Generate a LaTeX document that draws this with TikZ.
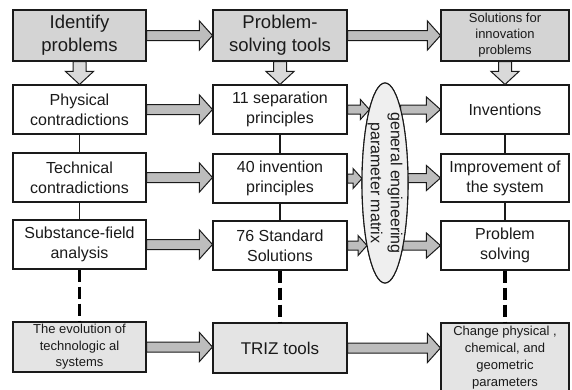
\documentclass[tikz,border=0pt]{standalone}
\usepackage{fontspec}
\setmainfont{Liberation Sans}
\usetikzlibrary{calc,shapes.geometric}
\definecolor{topfill}{HTML}{D4D4D4}
\definecolor{lowfill}{HTML}{E4E4E4}
\definecolor{harrfill}{HTML}{BDBDBD}
\definecolor{varrfill}{HTML}{D9D9D9}
\definecolor{ellfill}{HTML}{EFEFEF}
\definecolor{linecol}{HTML}{1A1A1A}
\newcommand{\fsz}[2]{\fontsize{#1}{#2}\selectfont}
% big horizontal block arrow between two anchors
\newcommand{\blockarrowH}[2]{%
  \draw[harrow] let \p1=(#1), \p2=(#2) in
    (\x1,\y1+5pt) -- (\x2-13pt,\y1+5pt) -- (\x2-13pt,\y1+14.5pt) -- (\x2,\y1)
    -- (\x2-13pt,\y1-14.5pt) -- (\x2-13pt,\y1-5pt) -- (\x1,\y1-5pt) -- cycle;}
% vertical down block arrow
\newcommand{\blockarrowV}[2]{%
  \draw[varrow] let \p1=(#1), \p2=(#2) in
    (\x1-6.5pt,\y1) -- (\x1-6.5pt,\y2+13pt) -- (\x1-14pt,\y2+13pt) -- (\x1,\y2)
    -- (\x1+14pt,\y2+13pt) -- (\x1+6.5pt,\y2+13pt) -- (\x1+6.5pt,\y1) -- cycle;}
% small arrow from a box to the ellipse
\newcommand{\blockarrowIn}[1]{%
  \draw[harrow] let \p1=(#1), \p2=(ell.center),
    \p3=({\x2-23pt*sqrt(max(0,1-((\y1-\y2)/100pt)^2))},\y1) in
    (\x1,\y1+4.5pt) -- (\x3-9pt,\y1+4.5pt) -- (\x3-9pt,\y1+10pt) -- (\x3,\y1)
    -- (\x3-9pt,\y1-10pt) -- (\x3-9pt,\y1-4.5pt) -- (\x1,\y1-4.5pt) -- cycle;}
% arrow from the ellipse to a box
\newcommand{\blockarrowOut}[1]{%
  \draw[harrow] let \p1=(#1), \p2=(ell.center),
    \p3=({\x2+23pt*sqrt(max(0,1-((\y1-\y2)/100pt)^2))},\y1) in
    (\x3,\y1+4.5pt) -- (\x1-14pt,\y1+4.5pt) -- (\x1-14pt,\y1+12.5pt) -- (\x1,\y1)
    -- (\x1-14pt,\y1-12.5pt) -- (\x1-14pt,\y1-4.5pt) -- (\x3,\y1-4.5pt) -- cycle;}
\begin{document}
\begin{tikzpicture}[x=1pt,y=-1pt,
  box/.style={draw=linecol,line width=1.1pt,rectangle,inner sep=0pt,align=center,
    text=linecol,font=\fsz{16}{20}},
  c1box/.style={box,minimum width=133pt},
  c2box/.style={box,minimum width=134pt},
  c3box/.style={box,minimum width=128pt},
  headbox/.style={fill=topfill},
  lowbox/.style={fill=lowfill},
  harrow/.style={draw=linecol,line width=1pt,fill=harrfill,line join=miter},
  varrow/.style={draw=linecol,line width=1pt,fill=varrfill,line join=miter},
  thinlink/.style={draw=linecol,line width=1.1pt},
  dashlink/.style={draw=black,line width=3.3pt,dash pattern=on 12pt off 5pt}]
\useasboundingbox (0,0) rectangle (572,389);

% column 1
\node[c1box,headbox,minimum height=51pt,font=\fsz{18.5}{23}] (a1) at (79.5,35.5) {Identify\\problems};
\node[c1box,minimum height=49pt] (a2) at (79.5,109.5) {Physical\\contradictions};
\node[c1box,minimum height=49pt] (a3) at (79.5,177.5) {Technical\\contradictions};
\node[c1box,minimum height=49pt] (a4) at (79.5,244.5) {Substance-field\\analysis};
\node[c1box,lowbox,minimum height=50pt,font=\fsz{13}{16.5}] (a5) at (79.5,347) {The evolution of\\technologic al\\systems};

% column 2
\node[c2box,headbox,minimum height=51pt,font=\fsz{18.5}{23}] (b1) at (280,35.5) {Problem-\\solving tools};
\node[c2box,minimum height=49pt] (b2) at (280,109.5) {11 separation\\principles};
\node[c2box,minimum height=49pt] (b3) at (280,178.5) {40 invention\\principles};
\node[c2box,minimum height=49pt] (b4) at (280,245.5) {76 Standard\\Solutions};
\node[c2box,lowbox,minimum height=50pt,font=\fsz{17}{20}] (b5) at (280,348) {TRIZ tools};

% column 3
\node[c3box,headbox,minimum height=51pt,font=\fsz{13}{16}] (c1) at (505,35.5) {Solutions for\\innovation\\problems};
\node[c3box,minimum height=49pt] (c2) at (505,109.5) {Inventions};
\node[c3box,minimum height=48pt] (c3) at (505,178) {Improvement of\\the system};
\node[c3box,minimum height=49pt] (c4) at (505,245.5) {Problem\\solving};
\node[c3box,lowbox,minimum height=69pt,font=\fsz{13}{16.8}] (c5) at (505,357.5) {Change physical ,\\chemical, and\\geometric\\parameters};

% ellipse
\node[ellipse,draw=linecol,line width=1.1pt,fill=ellfill,minimum width=46pt,minimum height=200pt,inner sep=0pt] (ell) at (385,183) {};

% horizontal big arrows
\blockarrowH{a1.east}{b1.west}
\blockarrowH{b1.east}{c1.west}
\blockarrowH{a2.east}{b2.west}
\blockarrowH{a3.east}{b3.west}
\blockarrowH{a4.east}{b4.west}
\blockarrowH{a5.east}{b5.west}
\blockarrowH{b5.east}{c5.west}

% arrows into / out of the ellipse
\blockarrowIn{b2.east}
\blockarrowIn{b3.east}
\blockarrowIn{b4.east}
\blockarrowOut{c2.west}
\blockarrowOut{c3.west}
\blockarrowOut{c4.west}

% redraw ellipse on top with its text
\node[ellipse,draw=linecol,line width=1.1pt,fill=ellfill,minimum width=46pt,minimum height=200pt,inner sep=0pt] (ell2) at (ell.center) {};
\node[rotate=-90,align=center,text=linecol,font=\fsz{16}{20}] (elltext) at (ell.center) {general engineering\\parameter matrix};

% vertical down arrows
\blockarrowV{a1.south}{a2.north}
\blockarrowV{b1.south}{b2.north}
\blockarrowV{c1.south}{c2.north}

% thin links
\draw[thinlink] (a2.south) -- (a3.north);
\draw[thinlink] (a3.south) -- (a4.north);
\draw[thinlink] (b2.south) -- (b3.north);
\draw[thinlink] (b3.south) -- (b4.north);
\draw[thinlink] (c2.south) -- (c3.north);
\draw[thinlink] (c3.south) -- (c4.north);

% dashed links
\draw[dashlink] (a4.south) -- (a5.north);
\draw[dashlink] (b4.south) -- (b5.north);
\draw[dashlink] (c4.south) -- (c5.north);
\end{tikzpicture}
\end{document}
